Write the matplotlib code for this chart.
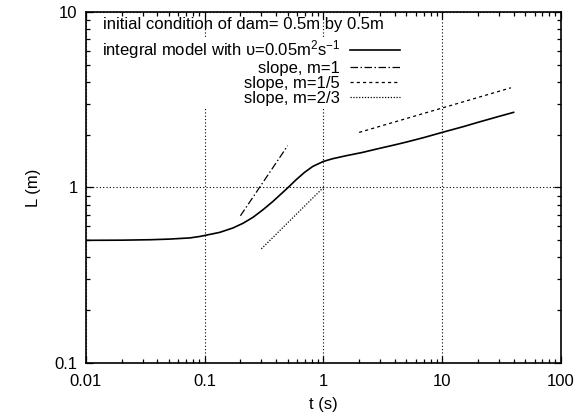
import numpy as np
import matplotlib
matplotlib.use("Agg")
import matplotlib.pyplot as plt
from matplotlib.ticker import FixedLocator, LogLocator, NullFormatter

plt.rcParams['font.family'] = ['Liberation Sans', 'DejaVu Sans']
plt.rcParams['mathtext.fontset'] = 'custom'
plt.rcParams['mathtext.rm'] = 'Liberation Sans'
plt.rcParams['mathtext.it'] = 'Liberation Sans'

# integral model
t_model = [0.01, 0.02, 0.035, 0.05, 0.075, 0.091, 0.134, 0.173, 0.21, 0.255,
           0.309, 0.375, 0.441, 0.501, 0.589, 0.692, 0.813, 1.0, 1.197, 1.552,
           2.14, 2.955, 4.0, 5.0, 7.0, 10, 15, 20, 30, 40]
L_model = [0.500, 0.501, 0.504, 0.508, 0.516, 0.526, 0.555, 0.588, 0.625, 0.676,
           0.746, 0.832, 0.920, 0.996, 1.107, 1.218, 1.318, 1.408, 1.459, 1.517,
           1.585, 1.670, 1.75, 1.815, 1.925, 2.06, 2.22, 2.35, 2.54, 2.68]

# slope reference segments (end points)
t_m1 = [0.2, 0.5]
L_m1 = [0.69, 1.73]
t_m15 = [2.0, 38.0]
L_m15 = [2.06, 3.70]
t_m23 = [0.3, 1.0]
L_m23 = [0.447, 1.0]

xticks = [0.01, 0.1, 1, 10, 100]
xlabels = ['0.01', '0.1', '1', '10', '100']
yticks = [0.1, 1, 10]
ylabels = ['0.1', '1', '10']

fs = 12
fig = plt.figure(figsize=(5.77, 4.18), dpi=100)
ax = fig.add_axes([0.149, 0.1316, 0.823, 0.8397])

ax.plot(t_model, L_model, color='black', lw=1.2,
        label='integral model with υ=0.05m$^{2}$s$^{-1}$', zorder=3)
ax.plot(t_m1, L_m1, color='black', lw=0.9, dashes=(6, 2, 1.2, 2), label='slope, m=1', zorder=3)
ax.plot(t_m15, L_m15, color='black', lw=0.9, dashes=(2.5, 2.5), label='slope, m=1/5', zorder=3)
ax.plot(t_m23, L_m23, color='black', lw=0.9, dashes=(1, 1.3), label='slope, m=2/3', zorder=3)

ax.set_xscale('log')
ax.set_yscale('log')
ax.set_xlim(0.01, 100)
ax.set_ylim(0.1, 10)

ax.xaxis.set_major_locator(FixedLocator(xticks))
ax.set_xticklabels(xlabels)
ax.yaxis.set_major_locator(FixedLocator(yticks))
ax.set_yticklabels(ylabels)
ax.xaxis.set_minor_locator(LogLocator(base=10, subs=np.arange(2, 10)))
ax.yaxis.set_minor_locator(LogLocator(base=10, subs=np.arange(2, 10)))
ax.xaxis.set_minor_formatter(NullFormatter())
ax.yaxis.set_minor_formatter(NullFormatter())
ax.tick_params(which='both', direction='in', top=True, right=True, labelsize=fs, width=0.9)
ax.tick_params(which='major', length=5)
ax.tick_params(axis='x', which='major', pad=8)
ax.tick_params(axis='y', which='major', pad=6)
ax.tick_params(which='minor', length=3)
for s in ax.spines.values():
    s.set_linewidth(1.2)

ax.grid(which='major', color='black', lw=0.8, linestyle=(0, (1, 2)), zorder=1)
ax.set_axisbelow(True)

ax.set_xlabel('t (s)', fontsize=fs, labelpad=6)
ax.set_ylabel('L (m)', fontsize=fs, labelpad=10)

ax.text(0.036, 0.963, 'initial condition of dam= 0.5m by 0.5m', transform=ax.transAxes,
        fontsize=fs, ha='left', va='center', zorder=5)
leg = ax.legend(loc='upper right', bbox_to_anchor=(0.665, 0.930), markerfirst=False,
                frameon=True, fancybox=False, framealpha=1, edgecolor='none',
                facecolor='white', fontsize=fs, handlelength=3.0, handletextpad=0.6,
                labelspacing=0.0, borderpad=0.1, borderaxespad=0)
leg.set_zorder(4)

fig.savefig('out.png', dpi=100)
